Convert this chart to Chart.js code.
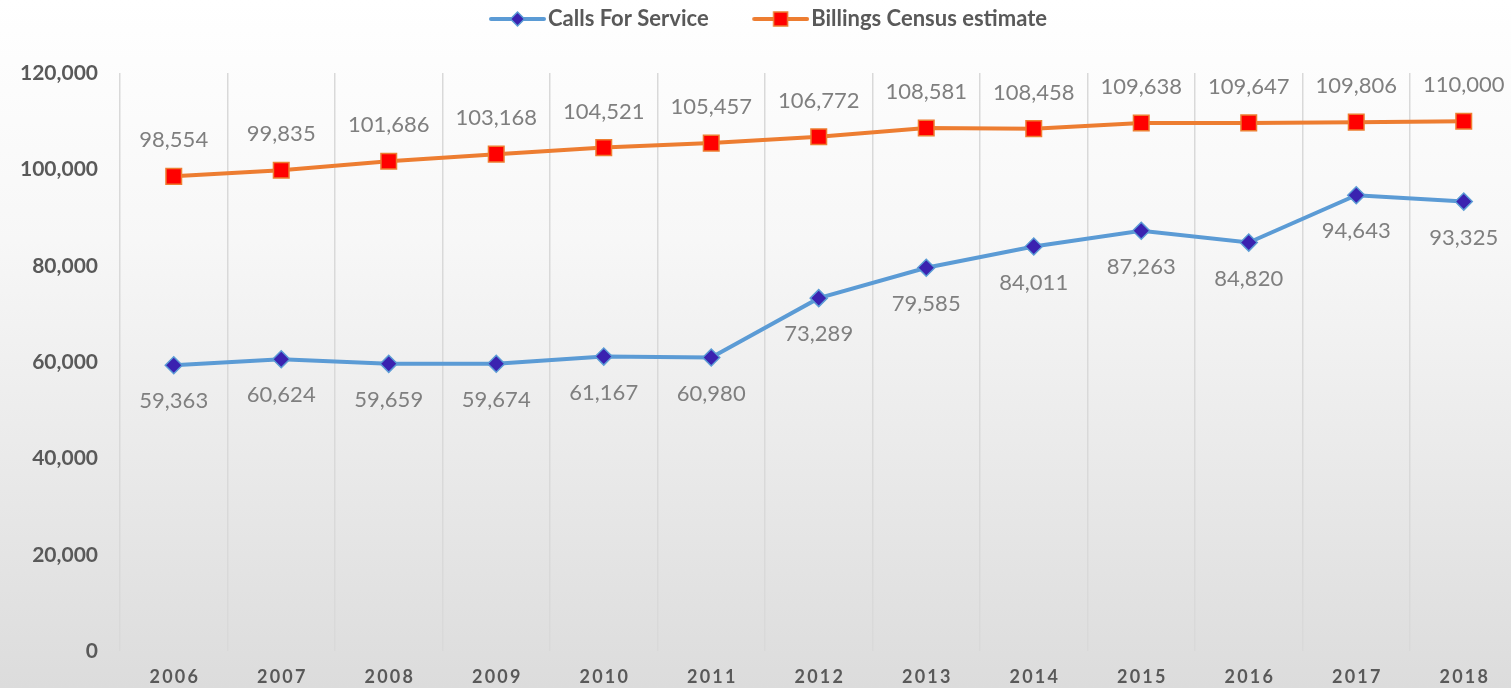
<!DOCTYPE html>
<html>
<head>
<meta charset="utf-8">
<script src="https://cdn.jsdelivr.net/npm/chart.js@4"></script>
<style>
  html, body { margin: 0; padding: 0; overflow: hidden; }
  body { width: 1511px; height: 688px; background: linear-gradient(#ffffff 0%, #f7f7f7 35%, #dcdcdc 100%); }
  canvas { display: block; margin-left: -20px; }
</style>
</head>
<body>
<canvas id="chart" width="1550" height="703"></canvas>
<script>
// --- Data ---
const years = ['2006', '2007', '2008', '2009', '2010', '2011', '2012', '2013', '2014', '2015', '2016', '2017', '2018'];
const callsForService = [59363, 60624, 59659, 59674, 61167, 60980, 73289, 79585, 84011, 87263, 84820, 94643, 93325];
const censusEstimate = [98554, 99835, 101686, 103168, 104521, 105457, 106772, 108581, 108458, 109638, 109647, 109806, 110000];

const BLUE = '#5b9bd5';
const ORANGE = '#ed7d31';
const TEXT = '#595959';
const LABEL = '#7f7f7f';
const FONT = 'Lato, "Open Sans", sans-serif';

// legend icon: a short line with the marker on it
// (image is wider than the legend box so the line sits close to the text)
function legendIcon(lineColor, draw) {
    const c = document.createElement('canvas');
    c.width = 74; c.height = 18;
    const g = c.getContext('2d');
    g.strokeStyle = lineColor;
    g.lineWidth = 4;
    g.lineCap = 'round';
    g.beginPath(); g.moveTo(19, 9); g.lineTo(72, 9); g.stroke();
    draw(g);
    return c;
}
const blueIcon = legendIcon(BLUE, g => {
    g.fillStyle = '#3a22b0'; g.strokeStyle = BLUE; g.lineWidth = 1.5;
    g.beginPath(); g.moveTo(45.5, 2); g.lineTo(52.5, 9); g.lineTo(45.5, 16); g.lineTo(38.5, 9); g.closePath();
    g.fill(); g.stroke();
});
const orangeIcon = legendIcon(ORANGE, g => {
    g.fillStyle = '#ff0000'; g.strokeStyle = ORANGE; g.lineWidth = 1.5;
    g.fillRect(38.5, 2, 14, 14); g.strokeRect(38.5, 2, 14, 14);
});

// draws value labels above / below points
const valueLabels = {
    id: 'valueLabels',
    afterDatasetsDraw(chart) {
        const ctx = chart.ctx;
        ctx.save();
        ctx.font = '22px ' + FONT;
        ctx.fillStyle = LABEL;
        ctx.textAlign = 'center';
        ctx.textBaseline = 'middle';
        chart.data.datasets.forEach((ds, i) => {
            const meta = chart.getDatasetMeta(i);
            meta.data.forEach((pt, j) => {
                const dy = ds.labelPos === 'above' ? -36 : 36;
                ctx.fillText(ds.data[j].toLocaleString('en-US'), pt.x, pt.y + dy);
            });
        });
        ctx.restore();
    }
};

// extra room under the legend
const legendGap = {
    id: 'legendGap',
    beforeInit(chart) {
        const fit = chart.legend.fit;
        chart.legend.fit = function () {
            fit.bind(chart.legend)();
            this.height += 33;
        };
    }
};

const ctx = document.getElementById('chart').getContext('2d');
new Chart(ctx, {
    type: 'line',
    data: {
        labels: years,
        datasets: [
            {
                label: 'Calls For Service',
                data: callsForService,
                borderColor: BLUE,
                borderWidth: 4,
                pointStyle: 'rectRot',
                pointRadius: 8.5,
                pointBackgroundColor: '#3a22b0',
                pointBorderColor: BLUE,
                pointBorderWidth: 1.5,
                labelPos: 'below',
                icon: blueIcon
            },
            {
                label: 'Billings Census estimate',
                data: censusEstimate,
                borderColor: ORANGE,
                borderWidth: 4,
                pointStyle: 'rect',
                pointRadius: 11,
                pointBackgroundColor: '#ff0000',
                pointBorderColor: ORANGE,
                pointBorderWidth: 1.5,
                labelPos: 'above',
                icon: orangeIcon
            }
        ]
    },
    options: {
        responsive: false,
        animation: false,
        layout: { padding: { top: 0, left: 18, right: 0, bottom: 0 } },
        plugins: {
            tooltip: { enabled: false },
            legend: {
                position: 'top',
                labels: {
                    usePointStyle: true,
                    pointStyleWidth: 56,
                    color: TEXT,
                    font: { size: 22, weight: 'bold', family: FONT },
                    padding: 8,
                    generateLabels(chart) {
                        return chart.data.datasets.map((ds, i) => ({
                            text: i === 0 ? ds.label + '\u2003\u2002' : ds.label,
                            fontColor: TEXT,
                            pointStyle: ds.icon,
                            datasetIndex: i,
                            lineWidth: 0
                        }));
                    }
                }
            }
        },
        scales: {
            x: {
                offset: true,
                grid: { display: true, offset: true, color: '#d9d9d9', lineWidth: 1.5, drawTicks: false },
                border: { display: false },
                ticks: {
                    color: TEXT,
                    padding: 15,
                    maxRotation: 0,
                    font: { size: 18, weight: 'bold', family: FONT },
                    callback(v) { return years[v].split('').join('\u2009'); }
                }
            },
            y: {
                min: 0,
                max: 120000,
                ticks: {
                    stepSize: 20000,
                    color: TEXT,
                    padding: 22,
                    font: { size: 21, weight: 'bold', family: FONT },
                    callback(v) { return v.toLocaleString('en-US'); }
                },
                grid: { display: false, drawTicks: false },
                border: { display: false }
            }
        }
    },
    plugins: [valueLabels, legendGap]
});
</script>
</body>
</html>
